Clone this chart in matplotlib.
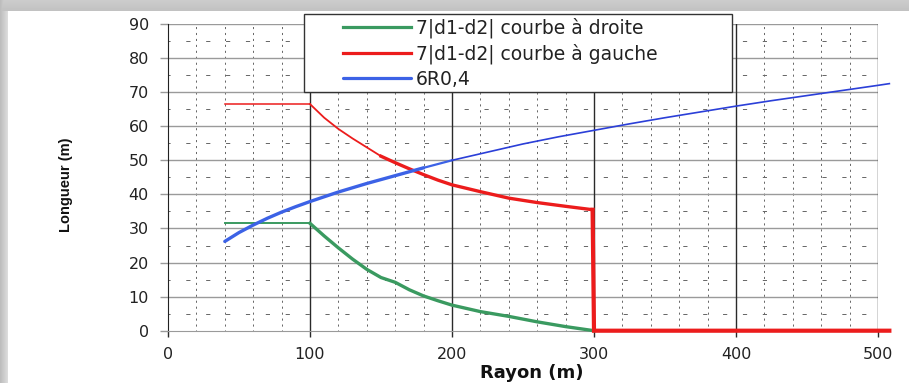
import numpy as np
import matplotlib

matplotlib.use("Agg")

import matplotlib.pyplot as plt  # noqa: E402
from matplotlib.patches import Rectangle  # noqa: E402

# valeurs
x_droite = [40, 60, 80, 100, 110, 120, 130, 140, 150, 160, 170, 180, 190, 200,
            220, 240, 260, 280, 300]
y_droite = [31.5, 31.5, 31.5, 31.5, 27.8, 24.3, 21.0, 18.0, 15.6, 14.2, 12.0, 10.2, 8.8, 7.5,
            5.6, 4.2, 2.6, 1.2, 0.0]

x_gauche = [40, 60, 80, 100, 110, 120, 130, 140, 150, 160, 170, 180, 190, 200,
            220, 240, 260, 280, 299, 300, 400, 508]
y_gauche = [66.5, 66.5, 66.5, 66.5, 62.5, 59.2, 56.4, 53.8, 51.2, 49.3, 47.5, 45.8, 44.2, 42.8,
            40.8, 38.9, 37.6, 36.5, 35.5, 0.0, 0.0, 0.0]

x_r04 = [40, 50, 60, 70, 80, 90, 100, 120, 140, 160, 180, 200, 225, 250, 275, 300,
         325, 350, 375, 400, 425, 450, 475, 500, 508]
y_r04 = [26.2, 28.8, 31.0, 33.0, 34.8, 36.4, 37.9, 40.7, 43.2, 45.5, 47.8, 50.0, 52.4,
         54.8, 56.9, 58.8, 60.7, 62.5, 64.2, 65.9, 67.5, 69.0, 70.5, 72.0, 72.5]

labels = ["7|d1-d2| courbe à droite", "7|d1-d2| courbe à gauche", "6R0,4"]
x_ticks = [0, 100, 200, 300, 400, 500]
y_ticks = list(range(0, 91, 10))

GREEN = "#3a9a60"
RED = "#ec1c1c"
BLUE = "#3c62e6"
BLUE_DARK = "#2b3fd8"

plt.rcParams["font.family"] = ["DejaVu Sans"]

W, H = 909, 383
fig = plt.figure(figsize=(W / 100, H / 100), dpi=100)

# cadre gris (ombre de la capture)
bg = fig.add_axes([0, 0, 1, 1], zorder=-5)
img = np.ones((H, W))
top = np.linspace(0.8, 0.76, 11)
img[:11, :] = top[:, None]
left = np.linspace(0.74, 0.86, 8)
img[:, :8] = np.minimum(img[:, :8], left[None, :])
bg.imshow(img, cmap="gray", vmin=0, vmax=1, aspect="auto", interpolation="bilinear")
bg.axis("off")

ax = fig.add_axes([168 / W, 1 - 330.7 / H, 710 / W, 306.7 / H])
ax.set_xlim(0, 500)
ax.set_ylim(0, 90)

# grille mineure pointillée
px = 72 / 100  # 1 px en points
for xv in range(20, 500, 20):
    if xv % 100:
        ax.axvline(xv, color="#666666", lw=0.7,
                   linestyle=(1.5 * px, (3 * px, 5.5 * px)), zorder=0.5)
for yv in range(5, 90, 10):
    ax.axhline(yv, color="#666666", lw=0.7,
               linestyle=(3 * px, (6 * px, 22.4 * px)), zorder=0.5)
# grille principale
for yv in y_ticks[1:]:
    ax.axhline(yv, color="#9a9a9a", lw=1.0, zorder=0.6)
for xv in x_ticks[1:]:
    ax.axvline(xv, color="#2a2a2a", lw=1.0, zorder=0.7)

for side in ("top", "right"):
    ax.spines[side].set_visible(False)
ax.spines["left"].set_color("#222222")
ax.spines["bottom"].set_color("#9a9a9a")

ax.set_xticks(x_ticks)
ax.set_yticks(y_ticks)
ax.tick_params(axis="y", length=5.8, width=1, color="#9a9a9a", pad=8, labelsize=11.5,
               labelcolor="#222222")
ax.tick_params(axis="x", length=4, width=1, color="#2a2a2a", pad=8, labelsize=11.5,
               labelcolor="#222222")

# courbes
l_d, = ax.plot(x_droite[:4], y_droite[:4], color=GREEN, lw=1.4, clip_on=False, zorder=3)
ax.plot(x_droite[3:], y_droite[3:], color=GREEN, lw=2.4, clip_on=False, zorder=3,
        solid_joinstyle="round")

l_g, = ax.plot(x_gauche[:4], y_gauche[:4], color=RED, lw=1.1, clip_on=False, zorder=4)
ax.plot(x_gauche[3:9], y_gauche[3:9], color=RED, lw=1.3, clip_on=False, zorder=4)
ax.plot(x_gauche[8:19], y_gauche[8:19], color=RED, lw=2.4, clip_on=False, zorder=4,
        solid_joinstyle="round")
ax.plot(x_gauche[18:], y_gauche[18:], color=RED, lw=3.0, clip_on=False, zorder=4,
        solid_joinstyle="miter")

l_r, = ax.plot(x_r04[:11], y_r04[:11], color=BLUE, lw=2.4, clip_on=False, zorder=5,
               solid_capstyle="round")
ax.plot(x_r04[10:12], y_r04[10:12], color=BLUE, lw=1.6, clip_on=False, zorder=5)
ax.plot(x_r04[11:], y_r04[11:], color=BLUE_DARK, lw=1.2, clip_on=False, zorder=5)

# légende
x0, x1 = (304 - 168) / 710, (732 - 168) / 710
y0, y1 = (330.7 - 92) / 306.7, (330.7 - 14) / 306.7
ax.add_patch(Rectangle((x0, y0), x1 - x0, y1 - y0, transform=ax.transAxes,
                       facecolor="white", edgecolor="#333333", lw=1.0,
                       clip_on=False, zorder=8))
leg = ax.legend([l_d, l_g, l_r], labels, loc="upper left",
                bbox_to_anchor=((343 - 168) / 710, (330.7 - 17.5) / 306.7),
                frameon=False, borderpad=0, borderaxespad=0, handlelength=3.6,
                handletextpad=0.3, labelspacing=0.3, fontsize=13.5)
leg.set_zorder(9)
for h, c in zip(leg.legend_handles, (GREEN, RED, BLUE)):
    h.set_linewidth(2.3)
    h.set_color(c)
for t in leg.get_texts():
    t.set_color("#222222")

fig.text(66 / W, 1 - 185 / H, "Longueur (m)", rotation=90, ha="center", va="center",
         fontsize=10.5, fontweight="bold", family=["Liberation Sans Narrow", "Liberation Sans"],
         color="#111111")
fig.text(532 / W, 1 / H, "Rayon (m)", ha="center", va="bottom",
         fontsize=13, fontweight="bold", color="#111111")

fig.savefig("out.png", dpi=100)
